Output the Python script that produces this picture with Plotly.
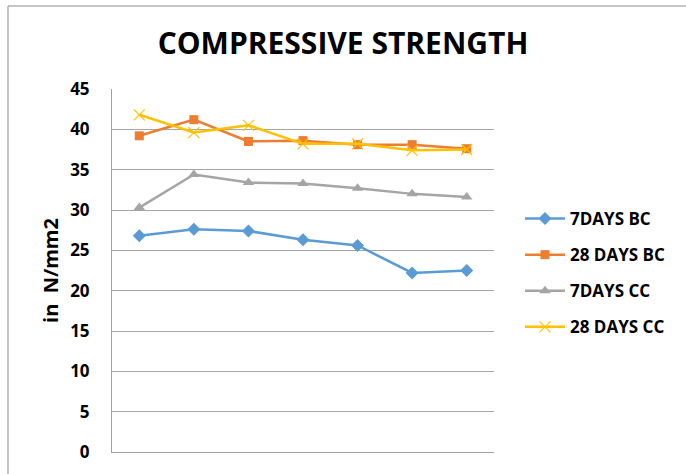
import plotly.graph_objects as go

categories = ["1", "2", "3", "4", "5", "6", "7"]
days7_bc = [26.8, 27.6, 27.4, 26.3, 25.6, 22.2, 22.5]
days28_bc = [39.2, 41.2, 38.5, 38.6, 38.1, 38.1, 37.6]
days7_cc = [30.3, 34.4, 33.4, 33.3, 32.7, 32.0, 31.6]
days28_cc = [41.8, 39.6, 40.5, 38.2, 38.2, 37.4, 37.5]
y_ticks = [0, 5, 10, 15, 20, 25, 30, 35, 40, 45]

FONT = "Open Sans"

series = [
    ("7DAYS BC", days7_bc, "#5b9bd5", dict(symbol="diamond", size=10)),
    ("28 DAYS BC", days28_bc, "#ed7d31", dict(symbol="square", size=9)),
    ("7DAYS CC", days7_cc, "#a5a5a5", dict(symbol="triangle-up", size=10)),
    ("28 DAYS CC", days28_cc, "#ffc000", dict(symbol="x-thin", size=11)),
]

fig = go.Figure()
for i, (name, vals, color, mk) in enumerate(series):
    marker = dict(color=color, **mk)
    if mk["symbol"] == "x-thin":
        marker["line"] = dict(color=color, width=1.2)
    fig.add_trace(go.Scatter(
        x=categories, y=vals, name=name, mode="lines+markers",
        line=dict(color=color, width=2.5), marker=marker,
        legendgroup=f"g{i}",
    ))

fig.update_layout(
    width=686, height=474,
    margin=dict(l=112, r=192, t=89, b=22),
    paper_bgcolor="white", plot_bgcolor="white",
    font=dict(family=FONT, color="black"),
    title=dict(text="<b>COMPRESSIVE STRENGTH</b>", x=0.5, xanchor="center",
               y=1 - 43 / 474, yanchor="middle",
               font=dict(size=30, family=FONT, color="black")),
    showlegend=True,
    legend=dict(x=(520 - 112) / 382, y=(452 - 201) / 363, xanchor="left", yanchor="top",
                font=dict(size=17, family=FONT, color="black", weight="bold"),
                tracegroupgap=11, itemwidth=40, bgcolor="rgba(0,0,0,0)"),
    xaxis=dict(showticklabels=False, showgrid=False, showline=True,
               linecolor="#a0a0a0", linewidth=1, range=[-0.5, 6.5],
               type="category", zeroline=False),
    yaxis=dict(range=[0, 45], tickvals=y_ticks, showgrid=True,
               gridcolor="#a6a6a6", gridwidth=1, showline=True,
               linecolor="#a0a0a0", linewidth=1, zeroline=False,
               ticks="outside", ticklen=18, tickcolor="rgba(0,0,0,0)",
               tickfont=dict(size=17, family=FONT, color="black", weight="bold"),
               title=dict(text="<b>in  N/mm2</b>", standoff=6,
                          font=dict(size=20, family=FONT, color="black"))),
    shapes=[dict(type="rect", xref="paper", yref="paper",
                 x0=(8 - 112) / 382, x1=2.0, y0=-1.0, y1=1 + (89 - 6) / 363,
                 line=dict(color="#8c8c8c", width=1), layer="below")],
)

fig.write_html("out.html")
